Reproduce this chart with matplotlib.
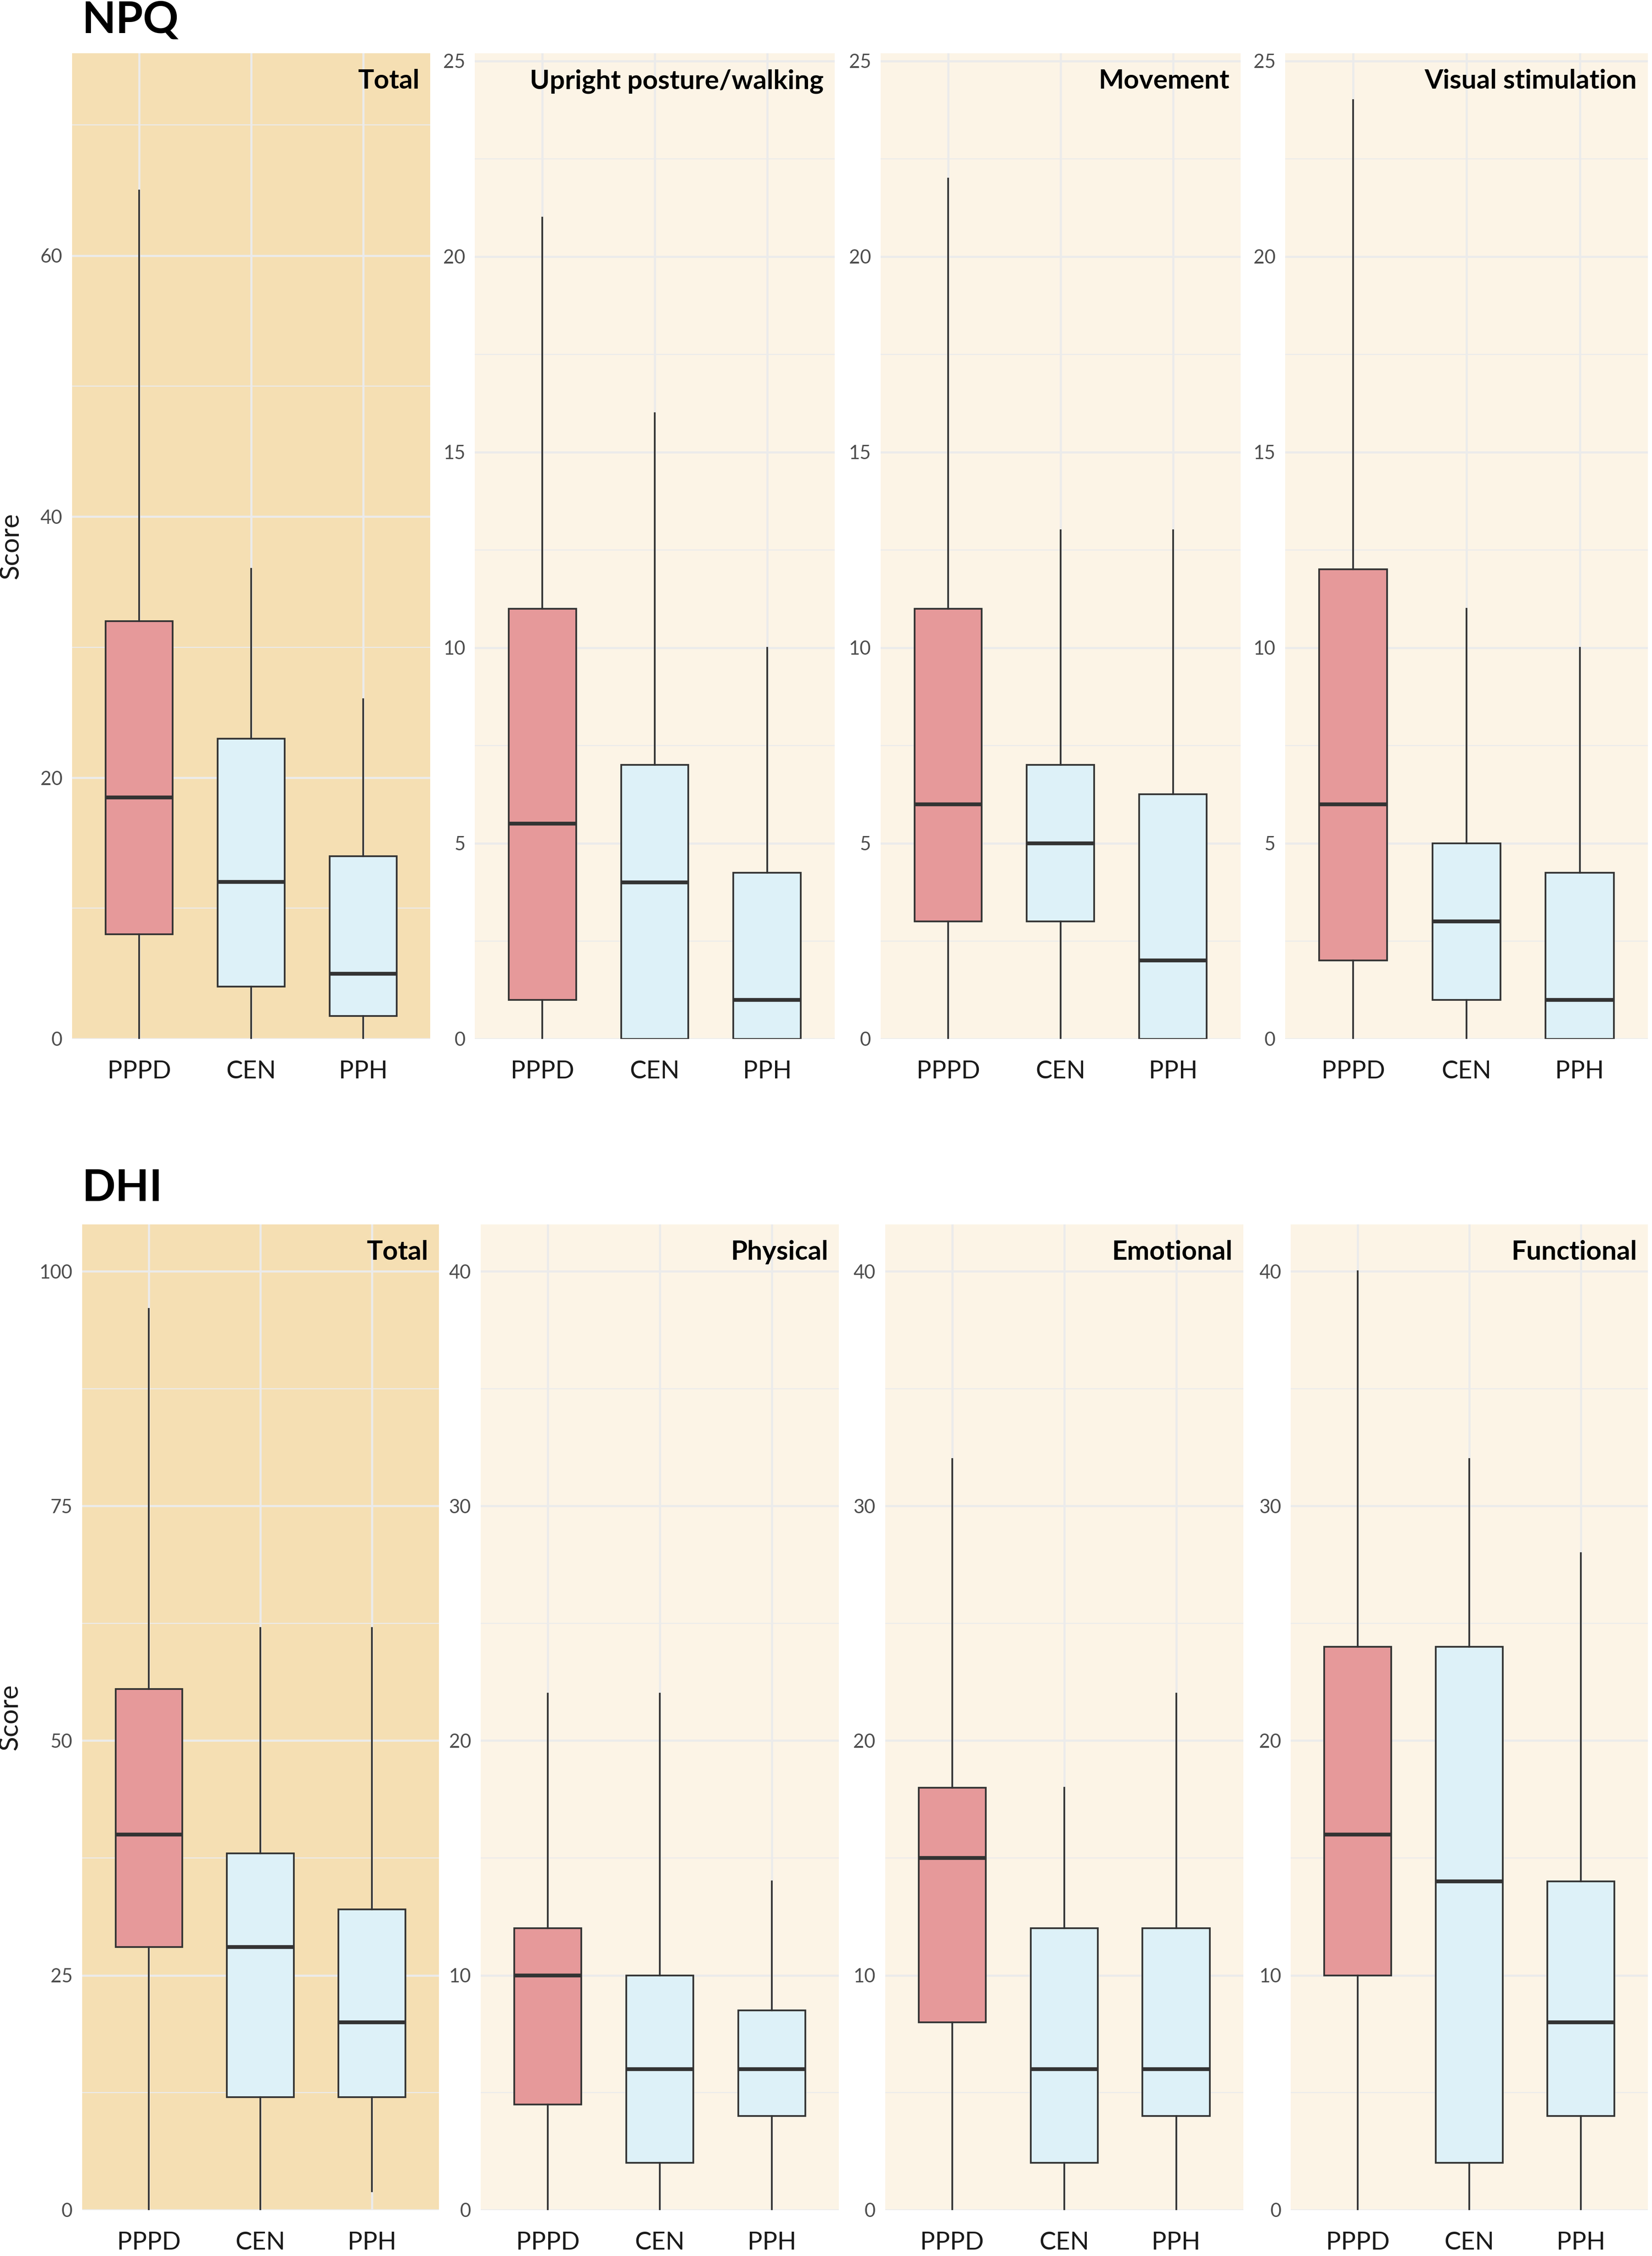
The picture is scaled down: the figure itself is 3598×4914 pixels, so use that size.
"""
NPQ and DHI subscale scores by diagnosis group, drawn as box plots.
"""

import matplotlib
matplotlib.use("Agg")
import matplotlib.pyplot as plt
from matplotlib.ticker import MultipleLocator

plt.rcParams['font.family'] = ['Lato', 'DejaVu Sans']

groups = ['PPPD', 'CEN', 'PPH']

# NPQ: whisker low, Q1, median, Q3, whisker high for each group
npq_panels = ['Total', 'Upright posture/walking', 'Movement', 'Visual stimulation']
npq_total = [[0, 8, 18.5, 32, 65], [0, 4, 12, 23, 36], [0, 1.75, 5, 14, 26]]
npq_upright = [[0, 1, 5.5, 11, 21], [0, 0, 4, 7, 16], [0, 0, 1, 4.25, 10]]
npq_movement = [[0, 3, 6, 11, 22], [0, 3, 5, 7, 13], [0, 0, 2, 6.25, 13]]
npq_visual = [[0, 2, 6, 12, 24], [0, 1, 3, 5, 11], [0, 0, 1, 4.25, 10]]

# DHI
dhi_panels = ['Total', 'Physical', 'Emotional', 'Functional']
dhi_total = [[0, 28, 40, 55.5, 96], [0, 12, 28, 38, 62], [2, 12, 20, 32, 62]]
dhi_physical = [[0, 4.5, 10, 12, 22], [0, 2, 6, 10, 22], [0, 4, 6, 8.5, 14]]
dhi_emotional = [[0, 8, 15, 18, 32], [0, 2, 6, 12, 18], [0, 4, 6, 12, 22]]
dhi_functional = [[0, 10, 16, 24, 40], [0, 2, 14, 24, 32], [0, 4, 8, 14, 28]]

W, H = 1148.0, 1568.0   # layout measured on a 1148 x 1568 grid

BOX_COLORS = ['#E6999A', '#DDF1F8', '#DDF1F8']
LINE = '#333333'
GRID = '#EBEBEB'


def panel_axes(fig, x0, x1, y0, y1):
    return fig.add_axes([x0 / W, 1 - y1 / H, (x1 - x0) / W, (y1 - y0) / H])


def draw_panel(ax, data, title, ymax, major, bg):
    stats = []
    for g, (lo, q1, med, q3, hi) in zip(groups, data):
        stats.append({'label': g, 'whislo': lo, 'q1': q1, 'med': med,
                      'q3': q3, 'whishi': hi})
    ax.set_facecolor(bg)
    bp = ax.bxp(stats, positions=[1, 2, 3], widths=0.6, patch_artist=True,
                showcaps=False, showfliers=False,
                boxprops=dict(edgecolor=LINE, linewidth=0.9),
                whiskerprops=dict(color=LINE, linewidth=0.9),
                medianprops=dict(color=LINE, linewidth=2.0))
    for patch, c in zip(bp['boxes'], BOX_COLORS):
        patch.set_facecolor(c)
    for line in bp['whiskers'] + bp['medians'] + bp['boxes']:
        line.set_zorder(3)

    ax.set_xlim(0.4, 3.6)
    ax.set_ylim(0, ymax)
    ax.yaxis.set_major_locator(MultipleLocator(major))
    ax.yaxis.set_minor_locator(MultipleLocator(major / 2))
    ax.grid(which='major', color=GRID, linewidth=1.1, zorder=0)
    ax.grid(which='minor', axis='y', color=GRID, linewidth=0.55, zorder=0)
    ax.set_axisbelow(True)
    for s in ax.spines.values():
        s.set_visible(False)
    ax.tick_params(which='both', length=0)
    ax.tick_params(axis='y', labelsize=10, labelcolor='#4D4D4D', pad=5)
    ax.tick_params(axis='x', labelsize=13, labelcolor='#1A1A1A', pad=11)
    ax.set_xticks([1, 2, 3])
    ax.set_xticklabels(groups)

    ax.text(0.97, 0.984, title, transform=ax.transAxes, ha='right', va='top',
            fontsize=14, fontweight='bold', color='black')


def main():
    fig = plt.figure(figsize=(3598 / 300, 4914 / 300), dpi=300)

    top_x = [(50, 299), (330, 580), (612, 862), (893, 1145)]
    bot_x = [(57, 305), (334, 583), (615, 864), (897, 1145)]

    npq_data = [npq_total, npq_upright, npq_movement, npq_visual]
    npq_ymax = [75.5, 25.2, 25.2, 25.2]
    npq_major = [20, 5, 5, 5]
    for i, (x0, x1) in enumerate(top_x):
        ax = panel_axes(fig, x0, x1, 37, 722)
        bg = '#F5DFB3' if i == 0 else '#FCF4E6'
        draw_panel(ax, npq_data[i], npq_panels[i], npq_ymax[i], npq_major[i], bg)
        if i == 0:
            ax.set_ylabel('Score', fontsize=14, color='#1A1A1A', labelpad=9)

    dhi_data = [dhi_total, dhi_physical, dhi_emotional, dhi_functional]
    dhi_ymax = [105, 42, 42, 42]
    dhi_major = [25, 10, 10, 10]
    for i, (x0, x1) in enumerate(bot_x):
        ax = panel_axes(fig, x0, x1, 851, 1536)
        bg = '#F5DFB3' if i == 0 else '#FCF4E6'
        draw_panel(ax, dhi_data[i], dhi_panels[i], dhi_ymax[i], dhi_major[i], bg)
        if i == 0:
            ax.set_ylabel('Score', fontsize=14, color='#1A1A1A', labelpad=9)

    fig.text(57 / W, 1 - 14 / H, 'NPQ', fontsize=23, fontweight='bold',
             ha='left', va='center')
    fig.text(57 / W, 1 - 826 / H, 'DHI', fontsize=23, fontweight='bold',
             ha='left', va='center')

    fig.savefig('out.png', dpi=300, facecolor='white')


if __name__ == "__main__":
    main()
